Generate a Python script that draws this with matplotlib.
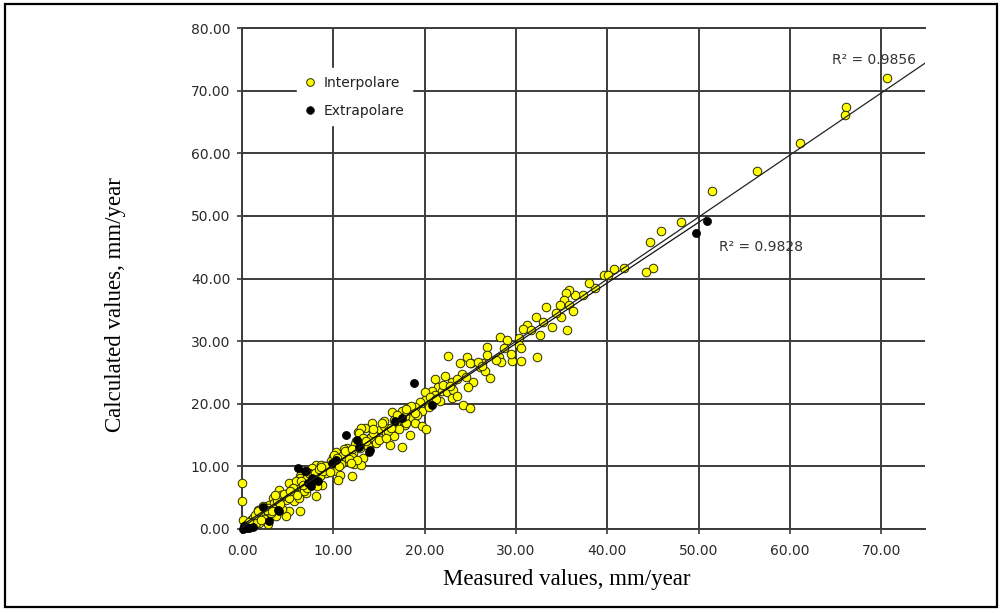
import matplotlib
matplotlib.use("Agg")
import matplotlib.pyplot as plt
import numpy as np
from matplotlib.patches import Rectangle
from matplotlib.lines import Line2D

# ---------------- data ----------------
interp_x = [70.6, 66.2, 66.0, 61.1, 56.4, 51.5, 48.1, 45.9, 44.7, 45.0, 44.2, 41.8, 40.7, 39.6, 40.1,
            38.7, 38.0, 37.3, 36.5, 35.8, 35.5, 35.3, 34.8, 35.8, 36.2, 33.3, 32.2, 34.9, 34.0, 35.6,
            31.2, 30.8, 31.7, 32.6, 28.3, 29.0, 30.3, 30.3, 30.6, 26.8, 28.7, 26.8, 28.1, 32.3, 28.4,
            29.6, 30.6, 26.3, 25.1, 26.1, 26.6, 27.2, 22.6, 24.6, 23.9, 25.0, 25.9, 26.3, 24.1, 21.1,
            23.0, 25.3, 24.8, 21.5, 20.8, 21.9, 22.4, 20.0, 23.1, 21.1, 23.0, 20.0, 21.7, 20.6, 19.5,
            24.2, 25.0, 19.7, 16.4, 17.5, 18.2, 16.6, 18.6, 18.9, 19.7, 20.2, 16.9, 17.9, 14.2, 13.5,
            12.7, 15.1, 15.8, 16.6, 18.4, 14.6, 14.0, 13.5, 16.2, 17.5, 12.9, 12.2, 13.0, 12.8, 14.1,
            12.5, 14.7, 11.8, 10.3, 12.1, 11.0, 13.2, 11.4, 12.3, 13.0, 8.1, 8.7, 9.2, 7.7, 10.3,
            9.2, 10.7, 8.5, 12.1, 6.3, 6.6, 10.5, 5.2, 8.8, 6.5, 4.1, 5.7, 7.0, 8.1, 4.8,
            3.4, 4.1, 5.7, 3.0, 1.7, 5.2, 3.7, 2.6, 4.8, 6.3, 0.1, 1.0, 1.9, 2.8, 0.0,
            0.0, 2.3, 6.4, 7.8, 8.2, 22.0, 23.5, 19.0, 18.0, 15.5, 11.5, 10.0, 9.5, 7.0, 6.0,
            5.0, 4.5, 3.5, 2.0, 1.2, 0.5, 3.2, 4.4, 6.8, 7.4, 9.0, 10.8, 11.7, 13.8, 15.0,
            16.0, 17.2, 19.2, 20.5, 22.8, 24.5, 27.8, 29.5, 33.0, 34.4, 2.4, 3.9, 5.5, 6.2, 8.9,
            9.8, 11.2, 12.6, 14.4, 15.6, 17.8, 18.5, 21.3, 22.2, 23.6, 1.5, 2.9, 4.3, 5.9, 7.3,
            0.8, 1.4, 2.1, 2.7, 3.3, 3.8, 4.2, 4.6, 5.1, 5.6, 6.0, 6.5, 7.1, 7.5, 8.0,
            8.4, 9.1, 9.6, 10.1, 10.6, 11.3, 11.9, 12.4, 13.3, 14.3, 15.3, 16.3, 17.0, 18.0, 19.0,
            0.3, 1.8, 3.6, 5.3, 6.7, 8.6, 10.4, 12.0, 13.6, 15.8]
interp_y = [72.0, 67.4, 66.1, 61.6, 57.2, 53.9, 49.0, 47.6, 45.8, 41.6, 41.1, 41.7, 41.5, 40.5, 40.5,
            38.5, 39.3, 37.4, 37.4, 38.1, 37.7, 36.6, 35.8, 35.8, 34.8, 35.4, 33.8, 33.8, 32.2, 31.8,
            32.6, 31.9, 31.7, 30.9, 30.6, 30.2, 30.5, 29.4, 28.9, 29.0, 28.9, 27.8, 27.5, 27.5, 26.6,
            26.8, 26.8, 26.5, 26.5, 25.9, 25.2, 24.1, 27.7, 27.4, 26.5, 26.5, 26.7, 26.0, 24.7, 23.9,
            23.4, 23.5, 22.7, 22.6, 22.0, 22.0, 21.8, 21.8, 22.2, 21.4, 20.9, 20.6, 20.5, 21.1, 20.3,
            19.8, 19.4, 18.8, 18.7, 18.8, 18.8, 17.4, 17.7, 16.9, 16.5, 15.9, 16.9, 16.6, 17.0, 16.1,
            15.5, 15.8, 15.3, 14.9, 15.0, 14.9, 14.5, 13.7, 13.4, 13.1, 12.9, 12.1, 16.2, 15.3, 14.7,
            14.1, 13.7, 12.3, 12.3, 11.5, 11.7, 11.3, 10.8, 10.3, 10.2, 10.2, 10.2, 10.0, 9.7, 9.2,
            8.9, 8.6, 8.4, 8.4, 8.4, 7.3, 7.8, 7.3, 7.0, 6.2, 6.2, 5.4, 5.7, 5.3, 4.6,
            4.9, 3.6, 4.4, 3.8, 3.0, 2.8, 2.0, 2.0, 2.0, 2.8, 1.4, 1.4, 1.0, 0.8, 7.3,
            4.4, 3.6, 8.1, 7.8, 6.8, 23.0, 24.0, 19.5, 17.0, 16.5, 13.0, 11.5, 9.8, 8.0, 6.8,
            5.8, 5.2, 4.2, 2.5, 1.8, 0.8, 2.6, 3.2, 6.0, 7.2, 9.5, 10.4, 11.2, 13.2, 14.2,
            15.6, 16.0, 18.2, 19.5, 22.9, 24.2, 27.0, 28.0, 33.0, 34.5, 1.6, 4.6, 6.4, 5.0, 9.3,
            10.9, 12.8, 11.0, 15.4, 17.2, 18.0, 19.6, 20.8, 24.4, 21.2, 0.9, 3.3, 5.4, 7.6, 8.9,
            1.1, 2.2, 1.4, 3.1, 2.9, 4.5, 4.0, 5.6, 4.9, 6.5, 5.5, 7.7, 6.6, 8.8, 9.0,
            9.6, 10.1, 9.1, 11.8, 10.0, 12.4, 10.6, 13.6, 14.6, 15.9, 16.9, 16.2, 18.2, 19.1, 18.5,
            0.5, 2.9, 5.4, 6.1, 7.0, 9.9, 11.3, 12.7, 14.1, 14.6]

extrap_x = [50.9, 49.7, 18.8, 20.8, 17.5, 11.4, 12.6, 14.0, 12.8, 13.9, 10.3, 9.9, 6.1, 7.0, 7.7,
            8.3, 7.6, 2.3, 3.9, 0.25, 0.8, 6.9, 4.0, 0.5, 1.2, 0.1, 16.8, 7.2, 3.0]
extrap_y = [49.2, 47.2, 23.3, 19.8, 17.8, 15.0, 14.2, 12.6, 13.1, 12.3, 11.0, 10.5, 9.7, 9.2, 8.1,
            7.6, 6.8, 3.5, 3.0, 0.4, 0.1, 9.2, 2.8, 0.2, 0.3, 0.0, 17.2, 7.4, 1.2]

series_labels = ["Interpolare", "Extrapolare"]
r2_labels = ["R\u00b2 = 0.9856", "R\u00b2 = 0.9828"]
x_ticks = [0, 10, 20, 30, 40, 50, 60, 70]
y_ticks = [0, 10, 20, 30, 40, 50, 60, 70, 80]

# ---------------- figure ----------------
W, H = 1002, 613
fig = plt.figure(figsize=(W / 100, H / 100), dpi=100)
fig.patch.set_facecolor("white")

ax = fig.add_axes([242 / W, (H - 529) / H, 683 / W, 501 / H])
ax.set_xlim(0, 74.8)
ax.set_ylim(0, 80)

gridc = "#3c3c3c"
ax.set_axisbelow(True)
ax.grid(True, color=gridc, lw=1.4)
ax.spines["right"].set_visible(False)
for s in ["left", "bottom", "top"]:
    ax.spines[s].set_color(gridc)
    ax.spines[s].set_linewidth(1.4)

ax.set_xticks(x_ticks)
ax.set_yticks(y_ticks)
ax.set_xticklabels([f"{v:.2f}" for v in x_ticks])
ax.set_yticklabels([f"{v:.2f}" for v in y_ticks])
ax.tick_params(axis="both", direction="out", length=3.5, width=1.2, color=gridc,
               labelsize=10, labelcolor="#2a2a2a")
ax.tick_params(axis="x", pad=7)
ax.tick_params(axis="y", pad=5)
for lab in ax.get_xticklabels() + ax.get_yticklabels():
    lab.set_family("DejaVu Sans")

ax.scatter(interp_x, interp_y, s=38, c="#ffff00", edgecolors="#2a2a00",
           linewidths=0.7, zorder=3, clip_on=False)
ax.scatter(extrap_x, extrap_y, s=34, c="black", edgecolors="black",
           linewidths=0.5, zorder=4, clip_on=False)

# trend lines
p1 = np.polyfit(interp_x, interp_y, 1)
xx1 = np.array([0, 74.8])
ax.plot(xx1, np.polyval(p1, xx1), color="#222222", lw=0.9, zorder=5)
p2 = np.polyfit(extrap_x, extrap_y, 1)
xx2 = np.array([0, max(extrap_x)])
ax.plot(xx2, np.polyval(p2, xx2), color="#111111", lw=0.9, zorder=5)

ax.text(73.8, 74.9, r2_labels[0], ha="right", va="center", fontsize=10,
        color="#333333", zorder=6)
ax.text(52.2, 45.0, r2_labels[1], ha="left", va="center", fontsize=10,
        color="#333333", zorder=6)

handles = [Line2D([], [], ls="none", marker="o", ms=5.5, mfc="#ffff00", mec="#2a2a00", mew=0.7),
           Line2D([], [], ls="none", marker="o", ms=5.5, mfc="black", mec="black", mew=0.5)]
leg = ax.legend(handles, series_labels, loc="upper left",
                bbox_to_anchor=(0.0805, 0.920), borderaxespad=0, frameon=True,
                fancybox=False, facecolor="white", edgecolor="white", framealpha=1,
                fontsize=10, handlelength=0.8, handletextpad=0.6, labelspacing=1.0,
                borderpad=0.55)
leg.set_zorder(2.5)
for t in leg.get_texts():
    t.set_color("#222222")

fig.text(567 / W, 1 - 580 / H, "Measured values, mm/year", ha="center", va="center",
         fontsize=16.5, family="Liberation Serif")
fig.text(115 / W, 1 - 305 / H, "Calculated values, mm/year", ha="center", va="center",
         rotation=90, fontsize=16.5, family="Liberation Serif")

fig.add_artist(Rectangle((5 / W, (H - 607) / H), (997 - 5) / W, (607 - 4) / H,
                         transform=fig.transFigure, fill=False, lw=1.6, ec="black"))

fig.savefig("out.png", dpi=100, facecolor="white")
